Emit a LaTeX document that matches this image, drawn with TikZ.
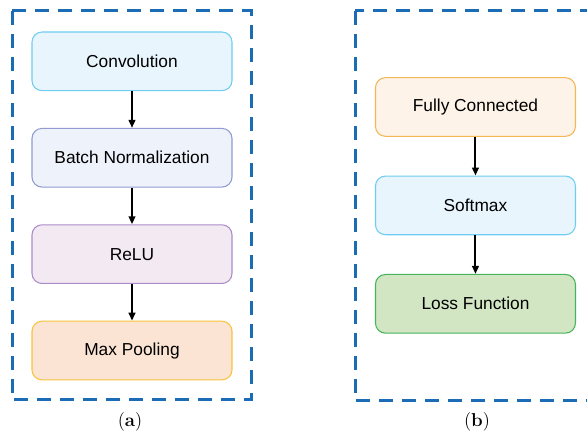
\documentclass[tikz,border=0pt]{standalone}
\usepackage{fontspec}
\setsansfont{Liberation Sans}
\usepackage{xcolor}
\usetikzlibrary{arrows.meta,positioning}
\definecolor{frameblue}{RGB}{27,108,180}
\definecolor{convfill}{RGB}{232,245,252}
\definecolor{convline}{RGB}{110,205,240}
\definecolor{bnfill}{RGB}{238,242,250}
\definecolor{bnline}{RGB}{145,155,210}
\definecolor{relufill}{RGB}{243,233,243}
\definecolor{reluline}{RGB}{170,140,200}
\definecolor{poolfill}{RGB}{251,228,212}
\definecolor{poolline}{RGB}{248,195,60}
\definecolor{fcfill}{RGB}{253,243,232}
\definecolor{fcline}{RGB}{245,182,85}
\definecolor{lossfill}{RGB}{210,230,196}
\definecolor{lossline}{RGB}{70,180,90}

\begin{document}
\begin{tikzpicture}[
    font=\sffamily\fontsize{13}{15}\selectfont,
    node distance=27.5pt,
    layer/.style={draw, line width=0.8pt, rounded corners=7.5pt, align=center, minimum width=150pt, minimum height=44pt},
    arrow/.style={-{Triangle[length=6pt,width=5pt]}, line width=1.5pt},
    frame/.style={draw=frameblue, line width=2.25pt, dash pattern=on 10.5pt off 6.75pt},
    caption/.style={font=\rmfamily\fontsize{14}{16}\selectfont}
  ]
    \useasboundingbox (0pt,0pt) rectangle (440.25pt,-325.5pt);
    % (a) feature block
    \draw[frame] (9pt,-8.25pt) rectangle (188.25pt,-300pt);
    \node[layer, draw=convline, fill=convfill] (conv) at (99pt,-46pt) {Convolution};
    \node[layer, below=of conv, draw=bnline, fill=bnfill] (bn) {Batch Normalization};
    \node[layer, below=of bn, draw=reluline, fill=relufill] (relu) {ReLU};
    \node[layer, below=of relu, draw=poolline, fill=poolfill] (pool) {Max Pooling};
    \draw[arrow] (conv) -- (bn);
    \draw[arrow] (bn) -- (relu);
    \draw[arrow] (relu) -- (pool);
    \node[caption] (capa) at (97.5pt,-316.5pt) {(\textbf{a})};
    % (b) classifier head
    \draw[frame] (266.25pt,-8.25pt) rectangle (443pt,-300.75pt);
    \node[layer, draw=fcline, fill=fcfill] (fc) at (356.6pt,-80.25pt) {Fully Connected};
    \node[layer, below=29pt of fc, draw=convline, fill=convfill] (soft) {Softmax};
    \node[layer, below=29pt of soft, draw=lossline, fill=lossfill] (loss) {Loss Function};
    \draw[arrow] (fc) -- (soft);
    \draw[arrow] (soft) -- (loss);
    \node[caption] (capb) at (357.75pt,-316.5pt) {(\textbf{b})};
  \end{tikzpicture}
\end{document}
